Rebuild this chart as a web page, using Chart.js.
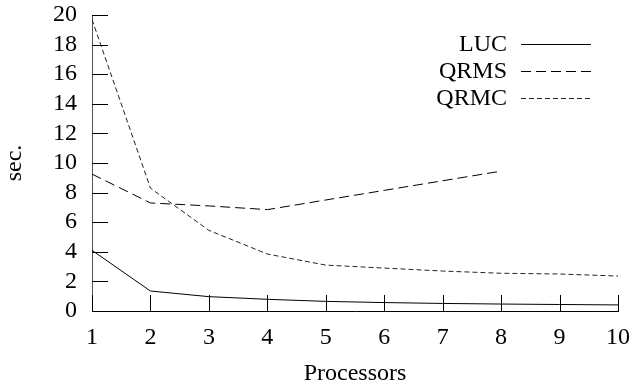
<!DOCTYPE html>
<html>
<head>
<meta charset="utf-8">
<script src="https://cdn.jsdelivr.net/npm/chart.js@4.4.1/dist/chart.umd.min.js"></script>
<style>
html,body{margin:0;padding:0;background:#fff;}
#wrap{width:634px;height:388px;}
</style>
</head>
<body>
<div id="wrap"><canvas id="c" width="634" height="388"></canvas></div>
<script>
const processors = [1, 2, 3, 4, 5, 6, 7, 8, 9, 10];
const lucValues  = [4.1, 1.35, 0.97, 0.79, 0.65, 0.57, 0.51, 0.47, 0.44, 0.41];
const qrmsProcs  = [1, 2, 3, 4, 5, 6, 7, 8];
const qrmsValues = [9.25, 7.3, 7.1, 6.85, 7.5, 8.15, 8.8, 9.45];
const qrmcValues = [19.7, 8.3, 5.45, 3.85, 3.1, 2.9, 2.7, 2.55, 2.5, 2.36];
const yTicks = [0, 2, 4, 6, 8, 10, 12, 14, 16, 18, 20];
const xTicks = [1, 2, 3, 4, 5, 6, 7, 8, 9, 10];
const seriesNames = ['LUC', 'QRMS', 'QRMC'];

const FONT = "'Liberation Serif', 'DejaVu Serif', serif";
const FS = 24;

function pts(xs, ys) { return xs.map((x, i) => ({ x: x, y: ys[i] })); }

const innerTicks = {
  id: 'innerTicks',
  afterDraw(chart) {
    const ctx = chart.ctx, xs = chart.scales.x, ys = chart.scales.y;
    const a = chart.chartArea;
    ctx.save();
    ctx.strokeStyle = '#000';
    ctx.lineWidth = 1;
    ctx.beginPath();
    yTicks.forEach(v => {
      const y = Math.round(ys.getPixelForValue(v)) + 0.5;
      ctx.moveTo(a.left, y); ctx.lineTo(a.left + 16, y);
    });
    xTicks.forEach(v => {
      const x = Math.round(xs.getPixelForValue(v)) + 0.5;
      ctx.moveTo(x, a.bottom); ctx.lineTo(x, a.bottom - 16);
    });
    ctx.stroke();
    ctx.restore();
  }
};

const legendPlugin = {
  id: 'customLegend',
  afterDraw(chart) {
    const ctx = chart.ctx;
    ctx.save();
    ctx.font = FS + 'px ' + FONT;
    ctx.fillStyle = '#000';
    ctx.textAlign = 'right';
    ctx.textBaseline = 'middle';
    chart.data.datasets.forEach((ds, i) => {
      const y = 44 + i * 27;
      ctx.fillText(ds.label, 507, y + 1);
      ctx.beginPath();
      ctx.setLineDash(ds.borderDash || []);
      ctx.strokeStyle = ds.borderColor;
      ctx.lineWidth = 1;
      ctx.moveTo(521, y + 0.5); ctx.lineTo(591, y + 0.5);
      ctx.stroke();
    });
    ctx.restore();
  }
};

new Chart(document.getElementById('c'), {
  type: 'line',
  data: {
    datasets: [
      { label: seriesNames[0], data: pts(processors, lucValues), borderColor: '#000', borderWidth: 1, pointRadius: 0, tension: 0, fill: false },
      { label: seriesNames[1], data: pts(qrmsProcs, qrmsValues), borderColor: '#000', borderWidth: 1, borderDash: [10, 5], pointRadius: 0, tension: 0, fill: false },
      { label: seriesNames[2], data: pts(processors, qrmcValues), borderColor: '#222', borderWidth: 1, borderDash: [5, 3], pointRadius: 0, tension: 0, fill: false }
    ]
  },
  options: {
    responsive: false,
    animation: false,
    devicePixelRatio: 1,
    layout: { padding: { top: 15, right: 16, left: 0, bottom: 0 } },
    plugins: { legend: { display: false }, tooltip: { enabled: false } },
    scales: {
      x: {
        type: 'linear', min: 1, max: 10,
        afterBuildTicks: s => { s.ticks = xTicks.map(v => ({ value: v })); },
        afterFit: s => { s.height = 77; s.paddingLeft = 0; s.paddingRight = 0; },
        grid: { display: true, drawOnChartArea: false, drawTicks: false },
        border: { display: true, color: '#000', width: 1 },
        ticks: { color: '#000', font: { family: FONT, size: FS }, padding: 12, maxRotation: 0, autoSkip: false },
        title: { display: true, text: 'Processors', color: '#000', font: { family: FONT, size: FS }, padding: { top: 0, bottom: 0 } }
      },
      y: {
        type: 'linear', min: 0, max: 20,
        afterBuildTicks: s => { s.ticks = yTicks.map(v => ({ value: v })); },
        afterFit: s => { s.width = 92; s.paddingTop = 0; s.paddingBottom = 0; },
        grid: { display: true, drawOnChartArea: false, drawTicks: false },
        border: { display: true, color: '#555', width: 1 },
        ticks: { color: '#000', font: { family: FONT, size: FS }, padding: 15, autoSkip: false },
        title: { display: true, text: 'sec.', color: '#000', font: { family: FONT, size: FS }, padding: { top: 0, bottom: 0 } }
      }
    }
  },
  plugins: [innerTicks, legendPlugin]
});
</script>
</body>
</html>
